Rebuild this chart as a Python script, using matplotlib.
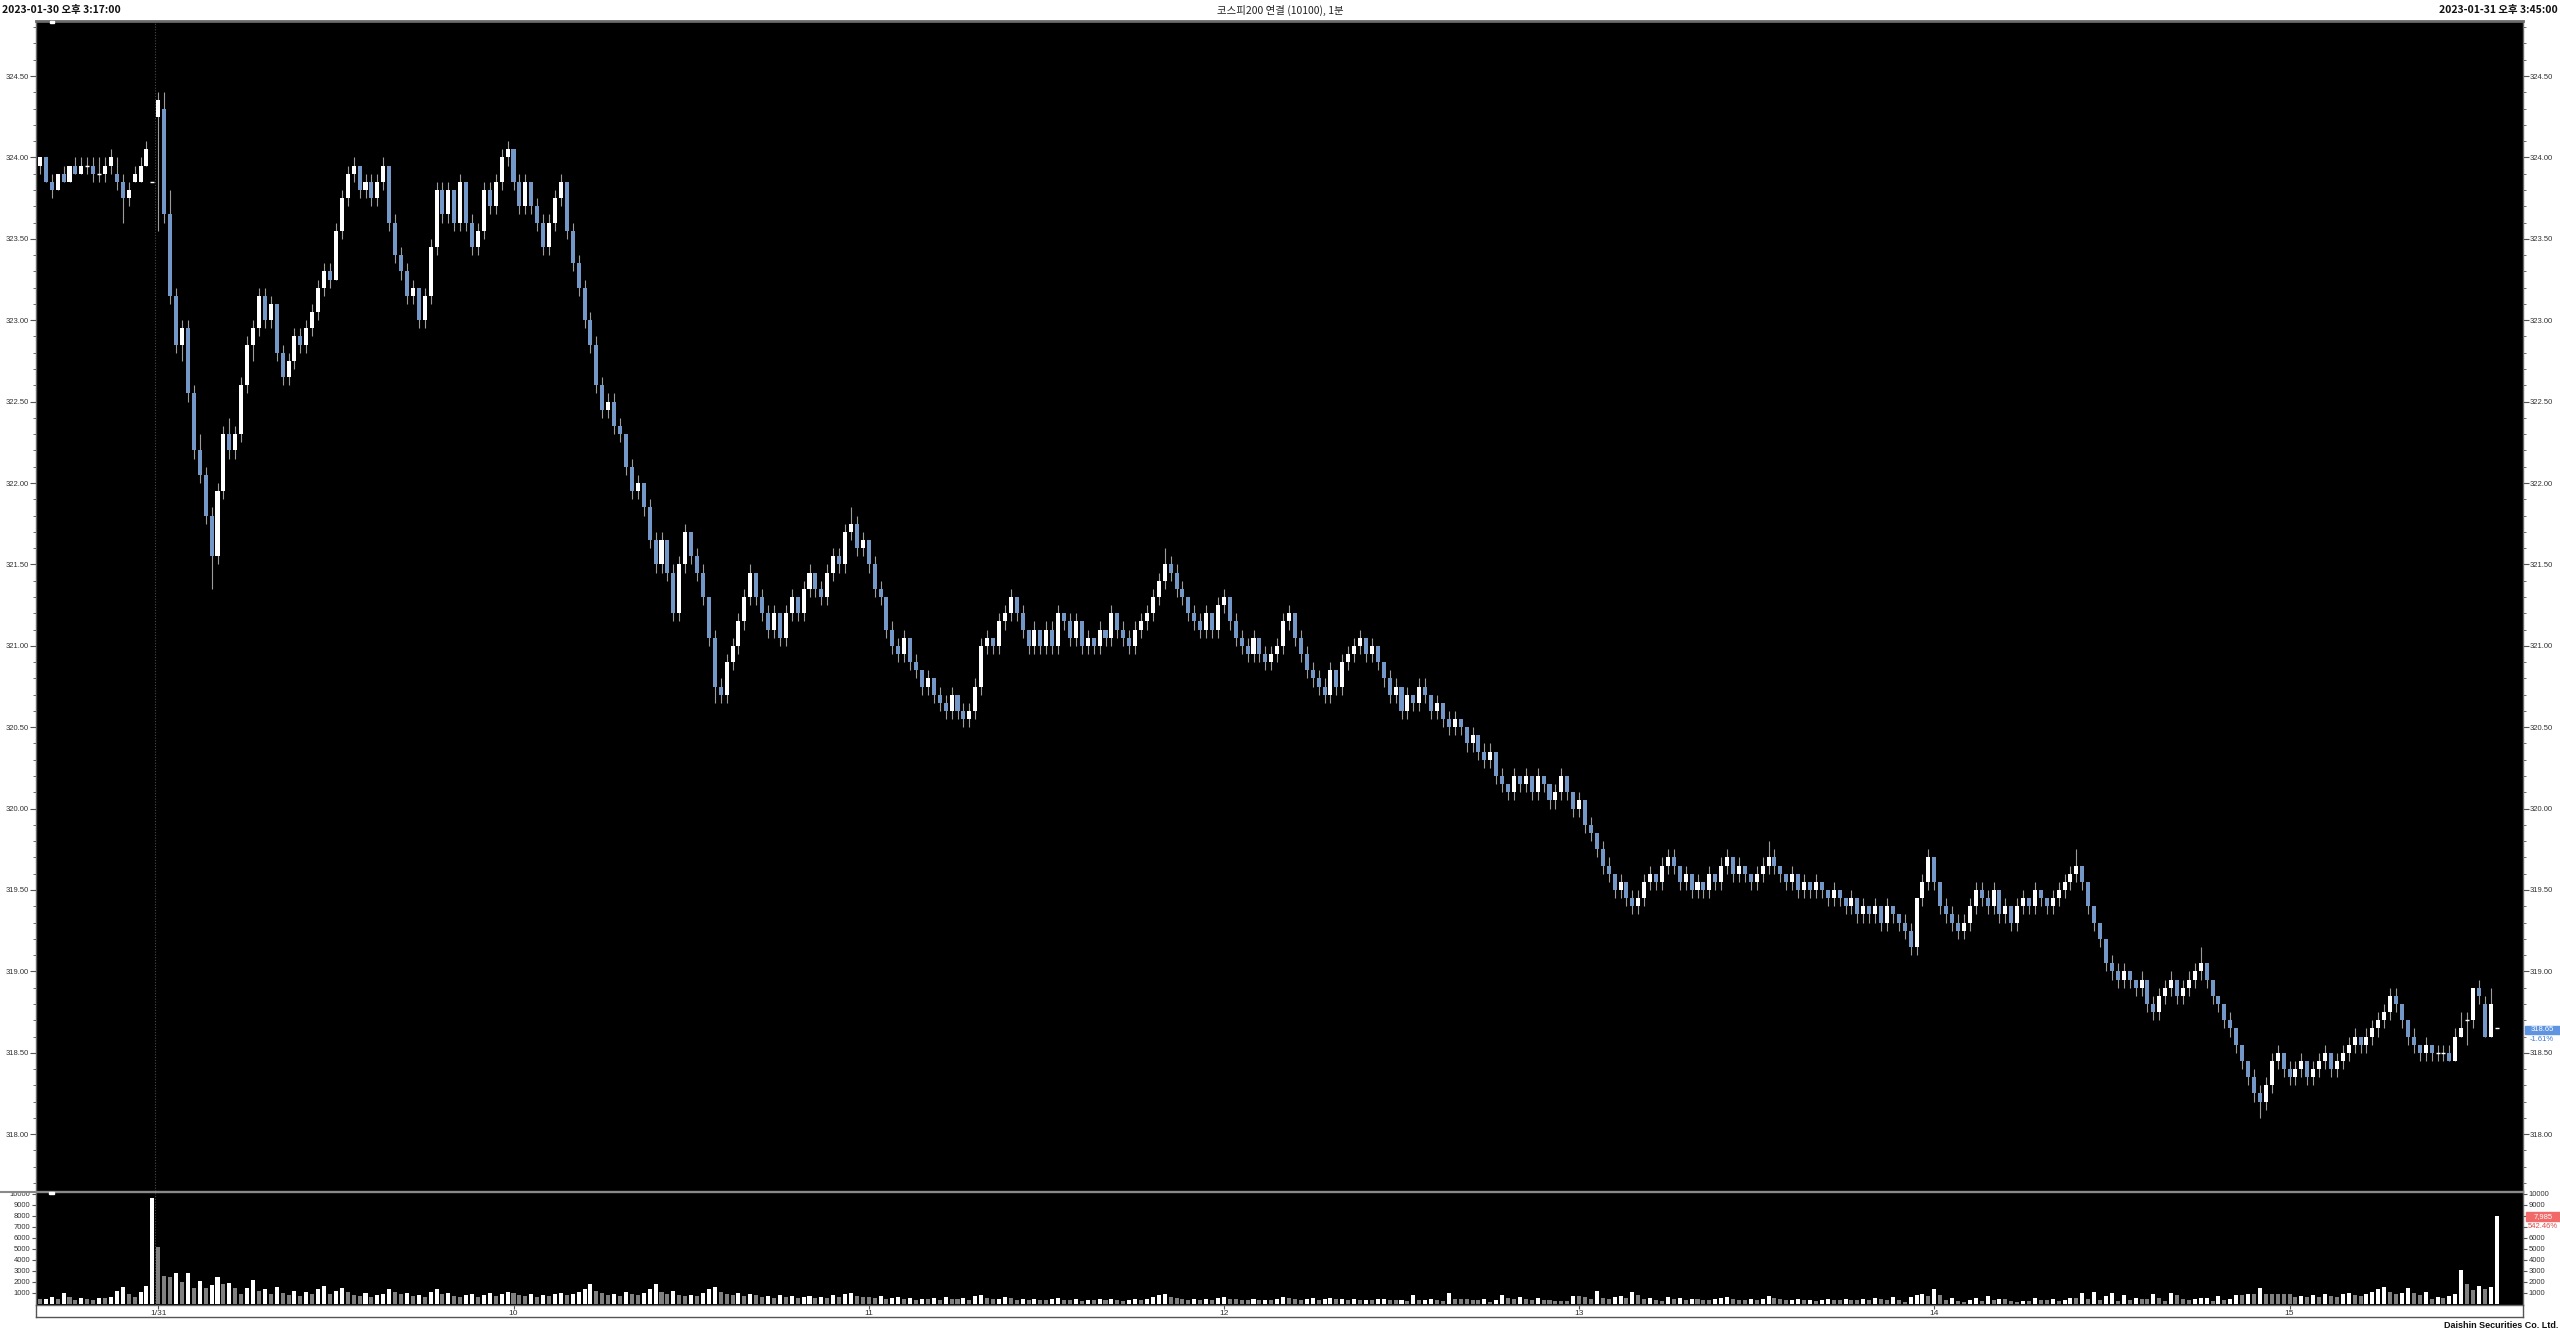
import matplotlib
matplotlib.use('Agg')
import matplotlib.pyplot as plt
import numpy as np
from matplotlib.lines import Line2D
from matplotlib.patches import Rectangle
from matplotlib.ticker import MultipleLocator, FixedLocator, FormatStrFormatter

plt.rcParams['font.family'] = ['Liberation Sans', 'Noto Sans CJK KR', 'DejaVu Sans']

# ---------------- data (1-minute bars) ----------------
opens = [
 323.95,324.00,323.85,323.80,323.90,323.85,323.95,323.90,323.95,323.95,
 323.90,323.90,323.95,323.90,323.85,323.75,323.85,323.85,323.95,323.85,
 324.25,324.30,323.65,323.15,322.85,322.95,322.55,322.20,322.05,321.80,
 321.55,321.95,322.30,322.20,322.30,322.60,322.85,322.95,323.15,323.00,
 323.10,322.80,322.65,322.75,322.90,322.85,322.95,323.05,323.20,323.30,
 323.25,323.55,323.75,323.90,323.95,323.80,323.85,323.75,323.85,323.95,
 323.60,323.40,323.30,323.15,323.20,323.00,323.15,323.45,323.80,323.65,
 323.80,323.60,323.85,323.60,323.45,323.55,323.80,323.70,323.85,324.00,
 324.05,323.85,323.70,323.85,323.70,323.60,323.45,323.60,323.75,323.85,
 323.55,323.35,323.20,323.00,322.85,322.60,322.45,322.50,322.35,322.30,
 322.10,321.95,322.00,321.85,321.65,321.50,321.65,321.45,321.20,321.50,
 321.70,321.55,321.45,321.30,321.05,320.75,320.70,320.90,321.00,321.15,
 321.30,321.45,321.30,321.20,321.10,321.20,321.05,321.20,321.30,321.20,
 321.35,321.45,321.35,321.30,321.45,321.55,321.50,321.70,321.75,321.60,
 321.65,321.50,321.35,321.30,321.10,321.00,320.95,321.05,320.90,320.85,
 320.75,320.80,320.70,320.65,320.60,320.70,320.60,320.55,320.60,320.75,
 321.00,321.05,321.00,321.15,321.20,321.30,321.20,321.10,321.00,321.10,
 321.00,321.10,321.00,321.20,321.15,321.05,321.15,321.00,321.05,321.00,
 321.10,321.05,321.20,321.10,321.05,321.00,321.10,321.15,321.20,321.30,
 321.40,321.50,321.45,321.35,321.30,321.20,321.15,321.10,321.20,321.10,
 321.25,321.30,321.15,321.05,321.00,320.95,321.05,320.95,320.90,320.95,
 321.00,321.15,321.20,321.05,320.95,320.85,320.80,320.75,320.70,320.85,
 320.75,320.90,320.95,321.00,321.05,320.95,321.00,320.90,320.80,320.70,
 320.75,320.60,320.70,320.65,320.75,320.70,320.60,320.65,320.55,320.50,
 320.55,320.50,320.40,320.45,320.35,320.30,320.35,320.20,320.15,320.10,
 320.20,320.15,320.20,320.10,320.20,320.15,320.05,320.10,320.20,320.10,
 320.00,320.05,319.90,319.85,319.75,319.65,319.60,319.50,319.55,319.45,
 319.40,319.45,319.55,319.60,319.55,319.65,319.70,319.65,319.55,319.60,
 319.50,319.55,319.50,319.60,319.55,319.65,319.70,319.60,319.65,319.60,
 319.55,319.60,319.65,319.70,319.65,319.60,319.55,319.60,319.50,319.55,
 319.50,319.55,319.50,319.45,319.50,319.45,319.40,319.45,319.35,319.40,
 319.35,319.40,319.30,319.40,319.35,319.30,319.25,319.15,319.45,319.55,
 319.70,319.55,319.40,319.35,319.30,319.25,319.30,319.40,319.50,319.45,
 319.40,319.50,319.35,319.40,319.30,319.40,319.45,319.40,319.50,319.45,
 319.40,319.45,319.50,319.55,319.60,319.65,319.55,319.40,319.30,319.20,
 319.05,319.00,318.95,319.00,318.95,318.90,318.95,318.80,318.75,318.85,
 318.90,318.95,318.85,318.90,318.95,319.00,319.05,318.95,318.85,318.80,
 318.70,318.65,318.55,318.45,318.35,318.25,318.20,318.30,318.45,318.50,
 318.40,318.35,318.40,318.45,318.35,318.40,318.45,318.50,318.40,318.45,
 318.50,318.55,318.60,318.55,318.60,318.65,318.70,318.75,318.85,318.80,
 318.70,318.60,318.55,318.50,318.55,318.50,318.50,318.50,318.45,318.60,
 318.70,318.70,318.90,318.80,318.60,318.65]
highs = [
 324.00,324.00,323.90,323.90,323.95,323.95,324.00,324.00,324.00,324.00,
 324.00,324.00,324.05,324.00,323.90,323.85,323.95,324.00,324.10,323.85,
 324.40,324.40,323.80,323.20,323.00,323.00,322.60,322.30,322.10,321.85,
 322.00,322.35,322.40,322.35,322.65,322.90,323.00,323.20,323.20,323.15,
 323.10,322.85,322.80,322.95,322.95,323.00,323.10,323.25,323.35,323.35,
 323.60,323.80,323.95,324.00,323.95,323.90,323.90,323.90,324.00,323.95,
 323.65,323.45,323.35,323.25,323.20,323.20,323.50,323.85,323.85,323.85,
 323.80,323.90,323.85,323.65,323.60,323.85,323.85,323.90,324.05,324.10,
 324.05,323.90,323.90,323.85,323.75,323.65,323.65,323.80,323.90,323.85,
 323.60,323.40,323.25,323.05,322.90,322.65,322.55,322.55,322.40,322.30,
 322.15,322.05,322.00,321.90,321.70,321.70,321.65,321.50,321.55,321.75,
 321.70,321.60,321.50,321.30,321.10,320.80,320.95,321.05,321.20,321.35,
 321.50,321.45,321.35,321.25,321.25,321.20,321.25,321.35,321.30,321.40,
 321.50,321.45,321.40,321.50,321.60,321.60,321.75,321.85,321.80,321.70,
 321.65,321.55,321.40,321.30,321.15,321.05,321.10,321.05,320.95,320.85,
 320.85,320.80,320.75,320.70,320.75,320.70,320.65,320.65,320.80,321.05,
 321.10,321.05,321.20,321.25,321.35,321.30,321.25,321.10,321.15,321.10,
 321.15,321.15,321.25,321.20,321.20,321.20,321.15,321.10,321.05,321.15,
 321.10,321.25,321.20,321.15,321.10,321.15,321.20,321.25,321.35,321.45,
 321.60,321.55,321.50,321.40,321.30,321.25,321.20,321.25,321.20,321.30,
 321.35,321.30,321.20,321.10,321.05,321.10,321.05,321.00,321.00,321.05,
 321.20,321.25,321.20,321.10,321.00,320.90,320.85,320.80,320.90,320.85,
 320.95,321.00,321.05,321.10,321.05,321.05,321.00,320.90,320.85,320.80,
 320.75,320.75,320.70,320.80,320.80,320.70,320.70,320.65,320.60,320.60,
 320.55,320.50,320.50,320.45,320.40,320.40,320.35,320.25,320.15,320.25,
 320.20,320.25,320.20,320.25,320.20,320.15,320.15,320.25,320.20,320.10,
 320.10,320.05,319.95,319.85,319.80,319.70,319.60,319.60,319.55,319.50,
 319.50,319.60,319.65,319.60,319.70,319.75,319.75,319.65,319.65,319.60,
 319.60,319.55,319.65,319.60,319.70,319.75,319.70,319.70,319.65,319.60,
 319.65,319.70,319.80,319.75,319.65,319.60,319.65,319.60,319.60,319.55,
 319.60,319.55,319.50,319.55,319.50,319.45,319.50,319.45,319.45,319.40,
 319.45,319.40,319.45,319.40,319.35,319.35,319.30,319.45,319.60,319.75,
 319.70,319.55,319.45,319.40,319.35,319.35,319.45,319.55,319.55,319.50,
 319.55,319.50,319.45,319.40,319.45,319.50,319.45,319.55,319.50,319.45,
 319.50,319.55,319.60,319.65,319.75,319.65,319.55,319.40,319.30,319.20,
 319.10,319.05,319.05,319.00,318.95,319.00,318.95,318.85,318.90,318.95,
 319.00,318.95,318.95,319.00,319.05,319.15,319.05,318.95,318.85,318.80,
 318.75,318.65,318.55,318.45,318.40,318.30,318.35,318.50,318.55,318.50,
 318.45,318.45,318.50,318.45,318.45,318.50,318.55,318.50,318.50,318.55,
 318.60,318.65,318.60,318.65,318.70,318.75,318.80,318.90,318.90,318.80,
 318.70,318.65,318.55,318.60,318.55,318.55,318.55,318.55,318.65,318.75,
 318.75,318.90,318.95,318.85,318.90,318.65]
lows = [
 323.90,323.85,323.75,323.80,323.85,323.85,323.90,323.90,323.90,323.85,
 323.85,323.85,323.90,323.80,323.60,323.70,323.85,323.85,323.95,323.85,
 323.55,323.60,323.10,322.80,322.75,322.50,322.15,322.00,321.75,321.35,
 321.50,321.90,322.15,322.15,322.25,322.55,322.75,322.90,322.95,322.95,
 322.75,322.60,322.60,322.70,322.80,322.80,322.90,323.00,323.15,323.20,
 323.25,323.50,323.70,323.85,323.75,323.75,323.70,323.70,323.80,323.55,
 323.35,323.25,323.10,323.10,322.95,322.95,323.10,323.40,323.60,323.60,
 323.55,323.55,323.55,323.40,323.40,323.50,323.65,323.65,323.80,323.95,
 323.80,323.65,323.65,323.65,323.55,323.40,323.40,323.55,323.70,323.50,
 323.30,323.15,322.95,322.80,322.55,322.40,322.40,322.30,322.25,322.05,
 321.90,321.90,321.80,321.60,321.45,321.45,321.40,321.15,321.15,321.45,
 321.50,321.40,321.25,321.00,320.65,320.65,320.65,320.85,320.95,321.10,
 321.25,321.25,321.15,321.05,321.05,321.00,321.00,321.15,321.15,321.15,
 321.30,321.30,321.25,321.25,321.40,321.45,321.45,321.65,321.55,321.55,
 321.45,321.30,321.25,321.05,320.95,320.90,320.90,320.85,320.80,320.70,
 320.70,320.65,320.60,320.55,320.55,320.55,320.50,320.50,320.55,320.70,
 320.95,320.95,320.95,321.10,321.15,321.15,321.05,320.95,320.95,320.95,
 320.95,320.95,320.95,321.10,321.00,321.00,320.95,320.95,320.95,320.95,
 321.00,321.00,321.05,321.00,320.95,320.95,321.05,321.10,321.15,321.25,
 321.35,321.40,321.30,321.25,321.15,321.10,321.05,321.05,321.05,321.05,
 321.20,321.10,321.00,320.95,320.90,320.90,320.90,320.85,320.85,320.90,
 320.95,321.10,321.00,320.90,320.80,320.75,320.70,320.65,320.65,320.70,
 320.70,320.85,320.90,320.95,320.90,320.90,320.85,320.75,320.65,320.65,
 320.55,320.55,320.60,320.60,320.65,320.55,320.55,320.50,320.45,320.45,
 320.45,320.35,320.35,320.30,320.25,320.25,320.15,320.10,320.05,320.05,
 320.10,320.10,320.05,320.05,320.10,320.00,320.00,320.05,320.05,319.95,
 319.95,319.85,319.80,319.70,319.60,319.55,319.45,319.45,319.40,319.35,
 319.35,319.40,319.50,319.50,319.50,319.60,319.60,319.50,319.50,319.45,
 319.45,319.45,319.45,319.50,319.50,319.60,319.55,319.55,319.55,319.50,
 319.50,319.55,319.60,319.60,319.55,319.50,319.50,319.45,319.45,319.45,
 319.45,319.45,319.40,319.40,319.40,319.35,319.35,319.30,319.30,319.30,
 319.30,319.25,319.25,319.30,319.25,319.20,319.10,319.10,319.40,319.50,
 319.50,319.35,319.30,319.25,319.20,319.20,319.25,319.35,319.40,319.35,
 319.35,319.30,319.30,319.25,319.25,319.35,319.35,319.35,319.40,319.35,
 319.35,319.40,319.45,319.50,319.55,319.50,319.35,319.25,319.15,319.00,
 318.95,318.90,318.90,318.90,318.85,318.85,318.75,318.70,318.70,318.80,
 318.85,318.80,318.80,318.85,318.90,318.95,318.90,318.80,318.75,318.65,
 318.60,318.50,318.40,318.30,318.20,318.10,318.15,318.25,318.40,318.35,
 318.30,318.30,318.35,318.30,318.30,318.35,318.40,318.35,318.35,318.40,
 318.45,318.50,318.50,318.50,318.55,318.60,318.65,318.70,318.75,318.65,
 318.55,318.50,318.45,318.45,318.45,318.45,318.45,318.45,318.45,318.60,
 318.55,318.65,318.80,318.60,318.60,318.65]
closes = [
 324.00,323.85,323.80,323.90,323.85,323.95,323.90,323.95,323.95,323.90,
 323.90,323.95,324.00,323.85,323.75,323.80,323.90,323.95,324.05,323.85,
 324.35,323.65,323.15,322.85,322.95,322.55,322.20,322.05,321.80,321.55,
 321.95,322.30,322.20,322.30,322.60,322.85,322.95,323.15,323.00,323.10,
 322.80,322.65,322.75,322.90,322.85,322.95,323.05,323.20,323.30,323.25,
 323.55,323.75,323.90,323.95,323.80,323.85,323.75,323.85,323.95,323.60,
 323.40,323.30,323.15,323.20,323.00,323.15,323.45,323.80,323.65,323.80,
 323.60,323.85,323.60,323.45,323.55,323.80,323.70,323.85,324.00,324.05,
 323.85,323.70,323.85,323.70,323.60,323.45,323.60,323.75,323.85,323.55,
 323.35,323.20,323.00,322.85,322.60,322.45,322.50,322.35,322.30,322.10,
 321.95,322.00,321.85,321.65,321.50,321.65,321.45,321.20,321.50,321.70,
 321.55,321.45,321.30,321.05,320.75,320.70,320.90,321.00,321.15,321.30,
 321.45,321.30,321.20,321.10,321.20,321.05,321.20,321.30,321.20,321.35,
 321.45,321.35,321.30,321.45,321.55,321.50,321.70,321.75,321.60,321.65,
 321.50,321.35,321.30,321.10,321.00,320.95,321.05,320.90,320.85,320.75,
 320.80,320.70,320.65,320.60,320.70,320.60,320.55,320.60,320.75,321.00,
 321.05,321.00,321.15,321.20,321.30,321.20,321.10,321.00,321.10,321.00,
 321.10,321.00,321.20,321.15,321.05,321.15,321.00,321.05,321.00,321.10,
 321.05,321.20,321.10,321.05,321.00,321.10,321.15,321.20,321.30,321.40,
 321.50,321.45,321.35,321.30,321.20,321.15,321.10,321.20,321.10,321.25,
 321.30,321.15,321.05,321.00,320.95,321.05,320.95,320.90,320.95,321.00,
 321.15,321.20,321.05,320.95,320.85,320.80,320.75,320.70,320.85,320.75,
 320.90,320.95,321.00,321.05,320.95,321.00,320.90,320.80,320.70,320.75,
 320.60,320.70,320.65,320.75,320.70,320.60,320.65,320.55,320.50,320.55,
 320.50,320.40,320.45,320.35,320.30,320.35,320.20,320.15,320.10,320.20,
 320.15,320.20,320.10,320.20,320.15,320.05,320.10,320.20,320.10,320.00,
 320.05,319.90,319.85,319.75,319.65,319.60,319.50,319.55,319.45,319.40,
 319.45,319.55,319.60,319.55,319.65,319.70,319.65,319.55,319.60,319.50,
 319.55,319.50,319.60,319.55,319.65,319.70,319.60,319.65,319.60,319.55,
 319.60,319.65,319.70,319.65,319.60,319.55,319.60,319.50,319.55,319.50,
 319.55,319.50,319.45,319.50,319.45,319.40,319.45,319.35,319.40,319.35,
 319.40,319.30,319.40,319.35,319.30,319.25,319.15,319.45,319.55,319.70,
 319.55,319.40,319.35,319.30,319.25,319.30,319.40,319.50,319.45,319.40,
 319.50,319.35,319.40,319.30,319.40,319.45,319.40,319.50,319.45,319.40,
 319.45,319.50,319.55,319.60,319.65,319.55,319.40,319.30,319.20,319.05,
 319.00,318.95,319.00,318.95,318.90,318.95,318.80,318.75,318.85,318.90,
 318.95,318.85,318.90,318.95,319.00,319.05,318.95,318.85,318.80,318.70,
 318.65,318.55,318.45,318.35,318.25,318.20,318.30,318.45,318.50,318.40,
 318.35,318.40,318.45,318.35,318.40,318.45,318.50,318.40,318.45,318.50,
 318.55,318.60,318.55,318.60,318.65,318.70,318.75,318.85,318.80,318.70,
 318.60,318.55,318.50,318.55,318.50,318.50,318.50,318.45,318.60,318.65,
 318.70,318.90,318.85,318.60,318.80,318.65]
volumes = [
 400,420,600,400,1000,600,300,500,450,300,
 500,480,600,1150,1500,850,600,1100,1650,9600,
 5200,2500,2450,2800,2000,2800,1450,2100,1400,1750,
 2400,1800,1850,1400,900,1400,2200,1150,
 1300,900,1500,1000,800,1200,700,1100,900,1300,
 1600,900,1200,1400,1100,800,700,1000,600,800,
 900,1300,1100,900,1000,700,800,600,1100,1300,
 900,1000,700,600,800,900,600,800,1000,700,
 900,1100,
 1000,800,700,900,600,800,700,900,1000,800,
 900,1100,1300,1800,1200,1000,800,900,700,1100,
 900,800,1000,1300,1800,1100,900,1200,800,700,
 800,700,1000,1300,1500,1100,900,800,1000,700,
 900,800,600,700,500,800,600,700,500,600,
 700,500,600,500,800,600,900,1000,700,600,
 600,500,700,400,500,600,400,500,350,450,
 400,500,350,600,450,400,550,350,700,800,
 500,400,450,600,500,350,400,300,450,350,
 300,400,500,350,300,400,250,350,300,400,
 300,450,350,250,300,400,350,450,600,800,
 900,600,500,400,350,450,300,400,350,500,
 600,450,400,350,300,400,300,350,300,400,
 600,500,450,350,400,500,350,400,550,400,
 450,350,400,300,350,300,400,450,350,300,
 330,240,790,300,360,430,300,240,970,400,
 400,400,360,330,430,150,330,790,550,460,
 610,430,300,550,330,300,240,240,240,730,
 670,610,400,1160,550,430,610,730,550,1090,
 790,430,490,360,240,610,400,490,300,430,
 430,
 350,300,450,500,600,400,350,300,400,350,
 450,700,500,400,300,350,450,300,350,250,
 300,400,350,300,450,350,300,400,350,500,
 400,350,600,
 300,180,600,760,850,700,1300,760,300,550,
 250,180,300,490,250,700,330,450,400,250,
 180,250,250,550,330,330,450,250,330,550,
 550,1000,400,1100,330,700,1000,250,800,330,
 490,400,400,900,550,250,1000,800,450,330,
 450,490,550,250,700,300,450,760,760,900,
 900,1450,850,850,850,850,850,600,
 700,600,800,650,900,700,600,850,1000,800,
 700,900,1100,1300,1500,1100,900,
 970,1450,1000,800,1050,400,600,550,700,900,
 3100,1800,1250,1600,1300,1550,7985]

price_ticks = [318.00, 318.50, 319.00, 319.50, 320.00, 320.50, 321.00,
               321.50, 322.00, 322.50, 323.00, 323.50, 324.00, 324.50]
volume_ticks = [1000, 2000, 3000, 4000, 5000, 6000, 7000, 8000, 9000, 10000]
volume_right_labels = ['1000', '2000', '3000', '4000', '5000', '6000', '', '', '9000', '10000']
time_tick_pos = [20, 80, 140, 200, 260, 320, 380]
time_tick_labels = ['1/31', '10', '11', '12', '13', '14', '15']
day_break = 19.5

header_left = '2023-01-30 오후 3:17:00'
header_center = '코스피200 연결 (10100), 1분'
header_right = '2023-01-31 오후 3:45:00'
last_price_text = '318.65'
last_change_text = '-1.61%'
last_volume_text = '7,985'
last_volume_ratio = '542.46%'
footer = 'Daishin Securities Co. Ltd.'

# ---------------- layout ----------------
W, H = 2560, 1334
fig = plt.figure(figsize=(W / 100, H / 100), dpi=100, facecolor='white')

def fx(px):
    return px / W

def fy(py):
    return 1 - py / H

LX, RX = 36, 2523
axp = fig.add_axes([fx(LX), fy(1191), (RX - LX) / W, (1191 - 21) / H])
axv = fig.add_axes([fx(LX), fy(1304.7), (RX - LX) / W, (1304.7 - 1192) / H])

o = np.array(opens); h = np.array(highs); l = np.array(lows); c = np.array(closes)
v = np.array(volumes)
n = len(c)
x = np.arange(n)

UP = '#ffffff'
DOWN = '#7397c7'
WICK = '#9c9c9c'
BW = 0.68

for ax in (axp, axv):
    ax.set_facecolor('black')
    ax.set_xlim(-0.66, 419.44)
    for s in ax.spines.values():
        s.set_color('#6a6a6a')
        s.set_linewidth(1.0)
    ax.axvline(day_break, color='#4a4a4a', lw=0.8, ls=(0, (1, 1.5)), zorder=1)

axp.spines['top'].set_linewidth(2.0)

# candles
axp.vlines(x, l, h, color=WICK, lw=0.8, zorder=2)
up = c > o
dn = c < o
fl = c == o
axp.bar(x[up], (c - o)[up], bottom=o[up], width=BW, color=UP, edgecolor='none', zorder=3)
axp.bar(x[dn], (o - c)[dn], bottom=c[dn], width=BW, color=DOWN, edgecolor='none', zorder=3)
axp.hlines(c[fl], x[fl] - BW / 2, x[fl] + BW / 2, color=UP, lw=1.0, zorder=3)
axp.set_ylim(317.651, 324.838)

# volume (white if rising vs previous bar, grey otherwise)
vcol = ['#808080'] + ['#ffffff' if v[i] > v[i - 1] else '#808080' for i in range(1, n)]
axv.bar(x, v, width=BW, color=vcol, edgecolor='none', zorder=3)
axv.set_ylim(-91, 10182)

# ticks
axp.yaxis.set_major_locator(FixedLocator(price_ticks))
axp.yaxis.set_minor_locator(MultipleLocator(0.1))
axp.yaxis.set_major_formatter(FormatStrFormatter('%.2f'))
axp.set_xticks([])
axp.tick_params(axis='y', which='both', left=True, right=True, labelleft=True,
                labelright=True, direction='out', colors='#555555', labelcolor='#333333',
                labelsize=5.5, pad=1)
axp.tick_params(axis='y', which='major', length=4, width=0.8)
axp.tick_params(axis='y', which='minor', length=2.5, width=0.6)

axv.yaxis.set_major_locator(FixedLocator(volume_ticks))
axv.yaxis.set_major_formatter(FormatStrFormatter('%d'))
axv.tick_params(axis='y', which='both', left=True, right=False, labelleft=True,
                labelright=False, direction='out', colors='#555555', labelcolor='#333333',
                labelsize=5.5, pad=1, length=3, width=0.8)
axv.set_xticks(time_tick_pos)
axv.set_xticklabels(time_tick_labels)
axv.tick_params(axis='x', direction='out', length=3, width=0.8, colors='#555555',
                labelcolor='#333333', labelsize=6, pad=1)

# right-hand volume scale (8000/7000 hidden behind the last-volume tag)
axr = axv.twinx()
axr.set_ylim(axv.get_ylim())
axr.set_yticks(volume_ticks)
axr.set_yticklabels(volume_right_labels)
axr.tick_params(axis='y', direction='out', colors='#555555', labelcolor='#333333',
                labelsize=5.5, pad=1, length=3, width=0.8)
for s in axr.spines.values():
    s.set_visible(False)

# frame lines
fig.add_artist(Line2D([0, fx(RX)], [fy(1191.5)] * 2, color='#8a8a8a', lw=1.5))
fig.add_artist(Line2D([fx(LX), fx(RX)], [fy(1317)] * 2, color='#555555', lw=1.0))
fig.add_artist(Line2D([fx(LX)] * 2, [fy(1304.7), fy(1317)], color='#555555', lw=1.0))
fig.add_artist(Line2D([fx(RX)] * 2, [fy(1304.7), fy(1317)], color='#555555', lw=1.0))

# small scroll markers
fig.add_artist(Rectangle((fx(50), fy(22.5)), 4 / W, 2 / H, transform=fig.transFigure,
                         color='white', zorder=10))
fig.add_artist(Rectangle((fx(49), fy(1194)), 5 / W, 2 / H, transform=fig.transFigure,
                         color='white', zorder=10))

# header
fig.text(fx(2), fy(10), header_left, ha='left', va='center', fontsize=7.5,
         fontweight='bold', family=['Noto Sans CJK KR', 'DejaVu Sans'], color='#111111')
fig.text(fx(1280), fy(10.5), header_center, ha='center', va='center', fontsize=7.5,
         family=['Noto Sans CJK KR', 'DejaVu Sans'], color='#222222')
fig.text(fx(2558), fy(10.5), header_right, ha='right', va='center', fontsize=7.5,
         fontweight='bold', family=['Noto Sans CJK KR', 'DejaVu Sans'], color='#111111')

# last price tag
fig.add_artist(Rectangle((fx(2525), fy(1033.5)), 35 / W, 8 / H, transform=fig.transFigure,
                         color='#5f95e0', zorder=10))
fig.text(fx(2542), fy(1029.5), last_price_text, ha='center', va='center', fontsize=5.5,
         color='white', zorder=11)
fig.text(fx(2542), fy(1039.5), last_change_text, ha='center', va='center', fontsize=5.5,
         color='#3a78d8', zorder=11)

# last volume tag
fig.add_artist(Rectangle((fx(2526), fy(1220.5)), 34 / W, 8.5 / H, transform=fig.transFigure,
                         color='#f06a6a', zorder=10))
fig.text(fx(2543), fy(1216.3), last_volume_text, ha='center', va='center', fontsize=5.5,
         color='white', zorder=11)
fig.text(fx(2543), fy(1226), last_volume_ratio, ha='center', va='center', fontsize=5.5,
         color='#e04848', zorder=11)

# footer
fig.text(fx(2558), fy(1325.5), footer, ha='right', va='center', fontsize=6.5,
         fontweight='bold', color='#111111')

fig.savefig('out.png', dpi=100, facecolor='white')
